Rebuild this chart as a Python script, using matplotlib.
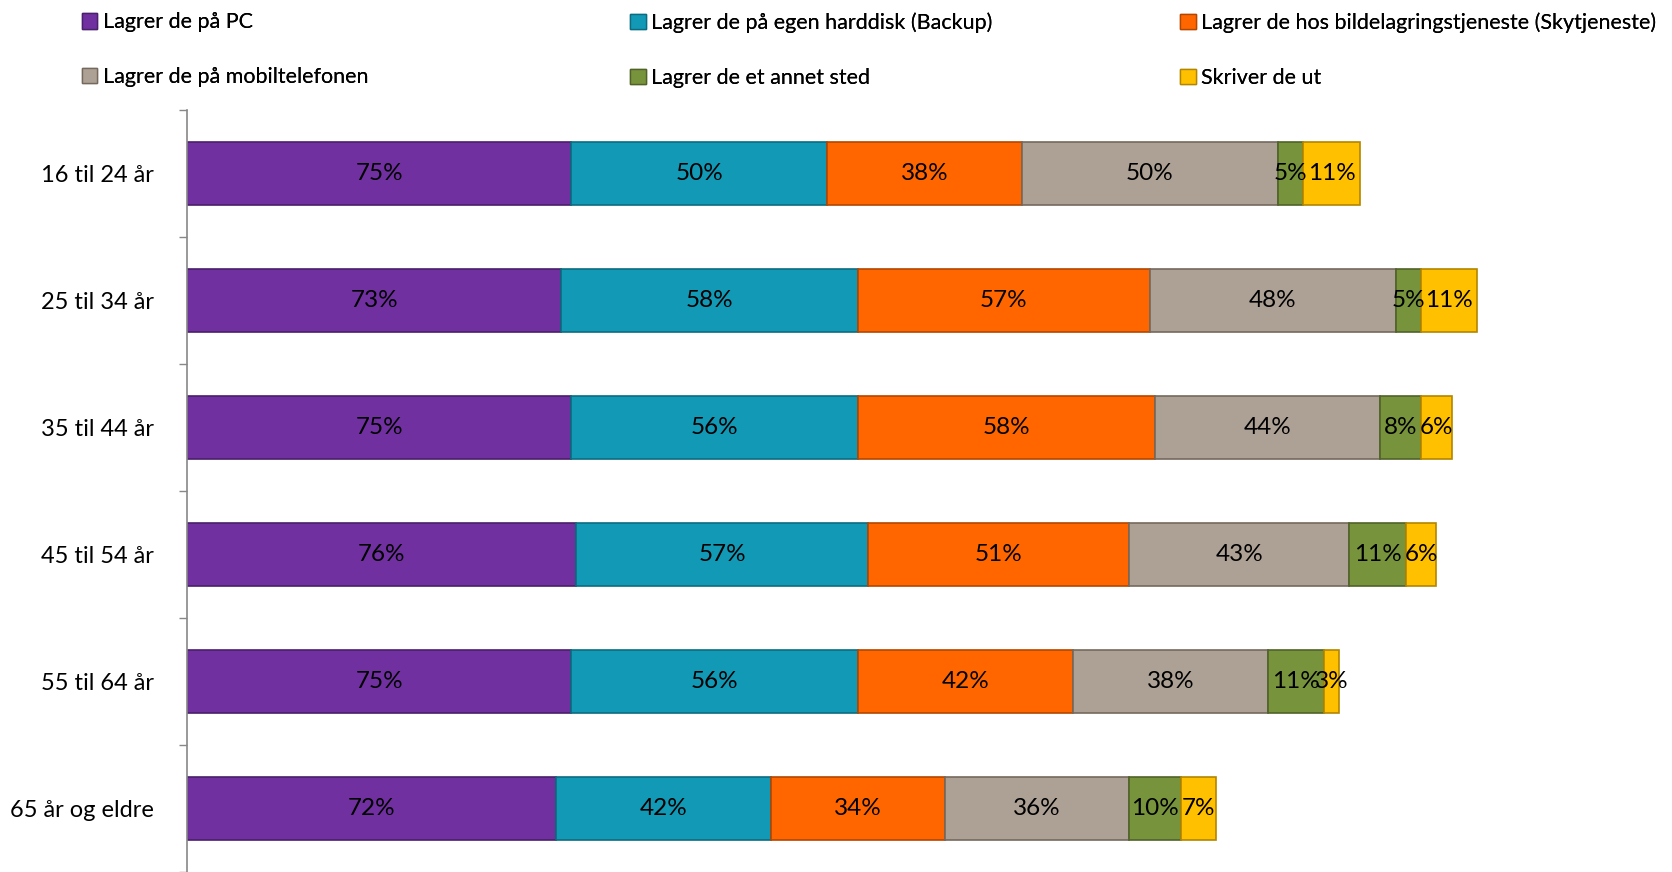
import matplotlib
matplotlib.use("Agg")
import matplotlib.pyplot as plt
import numpy as np
from matplotlib.patches import Patch

categories = ["16 til 24 år", "25 til 34 år", "35 til 44 år", "45 til 54 år", "55 til 64 år", "65 år og eldre"]
series_names = ["Lagrer de på PC", "Lagrer de på egen harddisk (Backup)",
                "Lagrer de hos bildelagringstjeneste (Skytjeneste)", "Lagrer de på mobiltelefonen",
                "Lagrer de et annet sted", "Skriver de ut"]
pc = [75, 73, 75, 76, 75, 72]
harddisk = [50, 58, 56, 57, 56, 42]
sky = [38, 57, 58, 51, 42, 34]
mobil = [50, 48, 44, 43, 38, 36]
annet = [5, 5, 8, 11, 11, 10]
skriver = [11, 11, 6, 6, 3, 7]
series = [pc, harddisk, sky, mobil, annet, skriver]
colors = ["#7030A0", "#1199B6", "#FF6600", "#ADA195", "#77933C", "#FFC000"]
edges = ["#4A1F6B", "#0B6C80", "#B34700", "#75695E", "#4F6228", "#B38600"]

plt.rcParams['font.family'] = ['Lato', 'DejaVu Sans']
fig = plt.figure(figsize=(16.72, 8.72), dpi=100)
ax = fig.add_axes([0.112, 0.0, 0.888, 0.874])

y = np.arange(len(categories))
left = np.zeros(len(categories))
for vals, c, ec, name in zip(series, colors, edges, series_names):
    vals = np.array(vals, dtype=float)
    ax.barh(y, vals, left=left, height=0.5, color=c, edgecolor=ec, linewidth=1.2, label=name)
    for yi, l, v in zip(y, left, vals):
        ax.text(l + v / 2, yi, f"{int(v)}%", ha="center", va="center", fontsize=17.5, color="black")
    left += vals

ax.set_ylim(len(categories) - 0.5, -0.5)
ax.set_xlim(0, 290)
ax.set_yticks(y)
ax.set_yticklabels(categories, fontsize=17)
ax.tick_params(axis='y', which='major', length=0, pad=24)
ax.set_yticks(np.arange(-0.5, len(categories), 1.0), minor=True)
ax.tick_params(axis='y', which='minor', length=6, width=1, color="#888888")
ax.xaxis.set_visible(False)
for s in ["top", "right", "bottom"]:
    ax.spines[s].set_visible(False)
ax.spines["left"].set_color("#888888")
ax.spines["left"].set_linewidth(1.2)

handles = [Patch(facecolor=c, edgecolor=ec) for c, ec in zip(colors, edges)]
col_x = [0.040, 0.368, 0.697]
for ci in range(3):
    idx = [ci, ci + 3]
    leg = fig.legend([handles[i] for i in idx], [series_names[i] for i in idx],
                     loc="upper left", bbox_to_anchor=(col_x[ci], 1.003), frameon=False,
                     fontsize=15.5, handlelength=0.72, handleheight=0.72, handletextpad=0.25,
                     labelspacing=1.62, borderaxespad=0.3)
    fig.add_artist(leg)

fig.savefig("out.png", dpi=100)
